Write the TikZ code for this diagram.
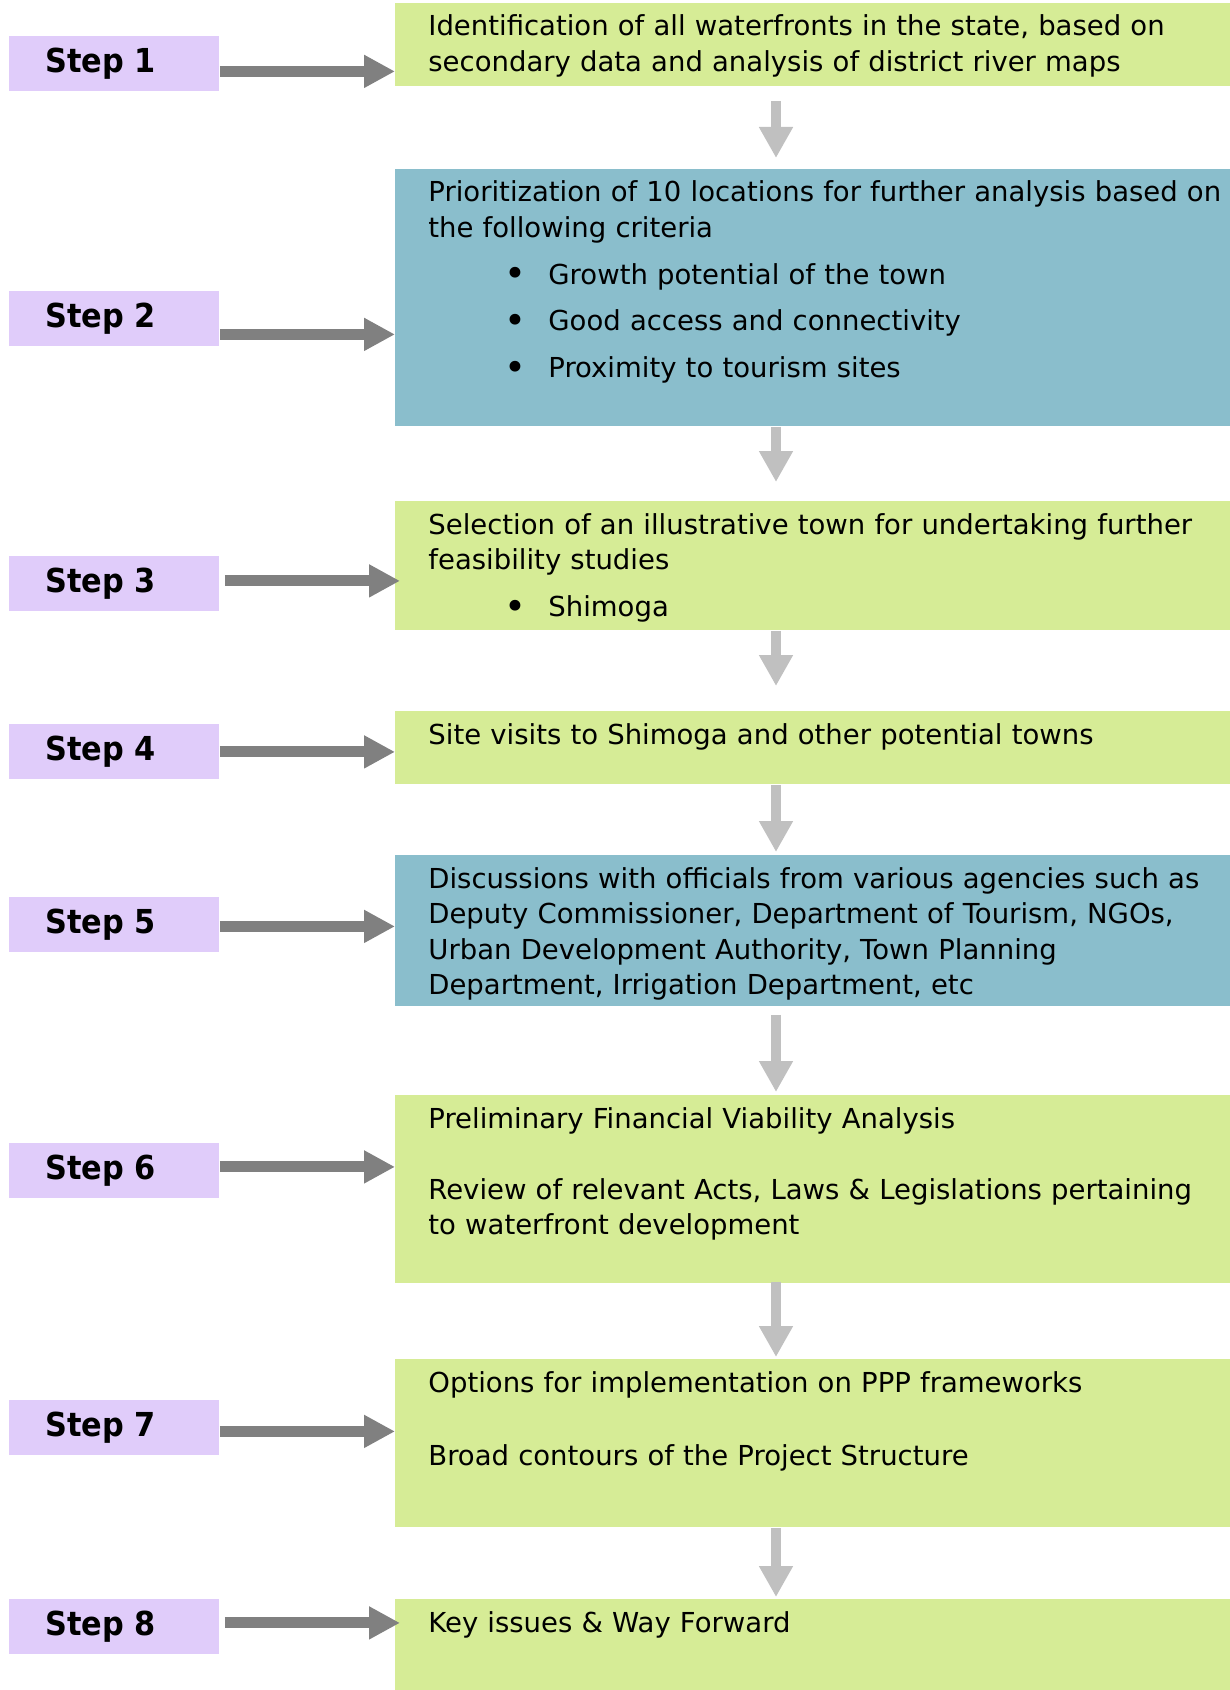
\documentclass[tikz,border=0pt]{standalone}
\usepackage{fontspec}
\setmainfont{DejaVu Sans}
\newfontfamily\stepfont[FakeStretch=0.92]{DejaVu Sans}
\usetikzlibrary{arrows.meta,calc}
\definecolor{stepc}{RGB}{224,204,250}
\definecolor{greenc}{RGB}{214,236,150}
\definecolor{bluec}{RGB}{138,190,204}
\definecolor{harrowc}{RGB}{128,128,128}
\definecolor{varrowc}{RGB}{192,192,192}
\newcommand{\bul}{\hspace*{38pt}\makebox[22pt][l]{\raisebox{-1.4pt}{\scalebox{1.35}{\textbullet}}}}
\begin{document}
\begin{tikzpicture}[x=0.5pt,y=-0.5pt,
  stepbox/.style={fill=stepc, minimum width=105pt, minimum height=27.5pt, inner sep=0, anchor=north west,
    font=\stepfont\bfseries\fontsize{16.5}{20}\selectfont},
  gbox/.style={fill=greenc, minimum width=417.5pt, inner sep=0, anchor=north west},
  bbox/.style={fill=bluec, minimum width=417.5pt, inner sep=0, anchor=north west},
  txt/.style={anchor=base west, inner sep=0, text width=420pt, align=left,
    font=\fontsize{13.75}{17.8}\selectfont},
  harrow/.style={draw=harrowc, line width=5.5pt, -{Triangle[width=15.5pt,length=15.5pt]}},
  varrow/.style={draw=varrowc, line width=5pt, -{Triangle[width=16pt,length=15.5pt]}}]
\useasboundingbox (0,0) rectangle (1230,1690);

% step labels
\node[stepbox] (s1) at (9,36)   {\makebox[105pt][l]{\hspace{18pt}Step 1}};
\node[stepbox] (s2) at (9,291)  {\makebox[105pt][l]{\hspace{18pt}Step 2}};
\node[stepbox] (s3) at (9,556)  {\makebox[105pt][l]{\hspace{18pt}Step 3}};
\node[stepbox] (s4) at (9,724)  {\makebox[105pt][l]{\hspace{18pt}Step 4}};
\node[stepbox] (s5) at (9,897)  {\makebox[105pt][l]{\hspace{18pt}Step 5}};
\node[stepbox] (s6) at (9,1143) {\makebox[105pt][l]{\hspace{18pt}Step 6}};
\node[stepbox] (s7) at (9,1400) {\makebox[105pt][l]{\hspace{18pt}Step 7}};
\node[stepbox] (s8) at (9,1599) {\makebox[105pt][l]{\hspace{18pt}Step 8}};

% content boxes
\node[gbox, minimum height=41.5pt] (b1) at (395,3) {};
\node[bbox, minimum height=128.5pt] (b2) at (395,169) {};
\node[gbox, minimum height=64.5pt] (b3) at (395,501) {};
\node[gbox, minimum height=36.5pt] (b4) at (395,711) {};
\node[bbox, minimum height=75.5pt] (b5) at (395,855) {};
\node[gbox, minimum height=94pt] (b6) at (395,1095) {};
\node[gbox, minimum height=84pt] (b7) at (395,1359) {};
\node[gbox, minimum height=45.5pt] (b8) at (395,1599) {};

% texts
\node[txt] (t1) at ($(b1.north west)+(33,33)$) {Identification of all waterfronts in the state, based on\\secondary data and analysis of district river maps};
\node[txt] (t2) at ($(b2.north west)+(33,33)$) {Prioritization of 10 locations for further analysis based on\\the following criteria\\[5.5pt]
\bul Growth potential of the town\\[5.5pt]
\bul Good access and connectivity\\[5.5pt]
\bul Proximity to tourism sites};
\node[txt] (t3) at ($(b3.north west)+(33,33)$) {Selection of an illustrative town for undertaking further\\feasibility studies\\[5.5pt]
\bul Shimoga};
\node[txt] (t4) at ($(b4.north west)+(33,33)$) {Site visits to Shimoga and other potential towns};
\node[txt] (t5) at ($(b5.north west)+(33,33)$) {Discussions with officials from various agencies such as\\Deputy Commissioner, Department of Tourism, NGOs,\\Urban Development Authority, Town Planning\\Department, Irrigation Department, etc};
\node[txt] (t6) at ($(b6.north west)+(33,33)$) {Preliminary Financial Viability Analysis\\[17.8pt]Review of relevant Acts, Laws \& Legislations pertaining\\to waterfront development};
\node[txt] (t7) at ($(b7.north west)+(33,33)$) {Options for implementation on PPP frameworks\\[19pt]Broad contours of the Project Structure};
\node[txt] (t8) at ($(b8.north west)+(33,33)$) {Key issues \& Way Forward};

% horizontal arrows
\draw[harrow] ([yshift=-3.75pt]s1.east) -- ([yshift=-3.75pt]s1.east -| b1.west);
\draw[harrow] ([yshift=-7.75pt]s2.east) -- ([yshift=-7.75pt]s2.east -| b2.west);
\draw[harrow, shorten <=2.5pt, shorten >=-2.5pt] ([yshift=1.5pt]s3.east) -- ([yshift=1.5pt]s3.east -| b3.west);
\draw[harrow] (s4.east) -- (s4.east -| b4.west);
\draw[harrow] ([yshift=-0.75pt]s5.east) -- ([yshift=-0.75pt]s5.east -| b5.west);
\draw[harrow] ([yshift=2pt]s6.east) -- ([yshift=2pt]s6.east -| b6.west);
\draw[harrow] ([yshift=-1.75pt]s7.east) -- ([yshift=-1.75pt]s7.east -| b7.west);
\draw[harrow, shorten <=2.5pt, shorten >=-2.5pt] ([yshift=2pt]s8.east) -- ([yshift=2pt]s8.east -| b8.west);

% vertical arrows
\coordinate (vx) at (776,0);
\draw[varrow, shorten <=7pt, shorten >=5.5pt] (b1.south -| vx) -- (b2.north -| vx);
\draw[varrow, shorten >=9.5pt] (b2.south -| vx) -- (b3.north -| vx);
\draw[varrow, shorten >=12.5pt] (b3.south -| vx) -- (b4.north -| vx);
\draw[varrow, shorten >=1.5pt] (b4.south -| vx) -- (b5.north -| vx);
\draw[varrow, shorten <=4pt, shorten >=1.5pt] (b5.south -| vx) -- (b6.north -| vx);
\draw[varrow, shorten <=-1pt, shorten >=1pt] (b6.south -| vx) -- (b7.north -| vx);
\draw[varrow, shorten >=1pt] (b7.south -| vx) -- (b8.north -| vx);
\end{tikzpicture}
\end{document}
